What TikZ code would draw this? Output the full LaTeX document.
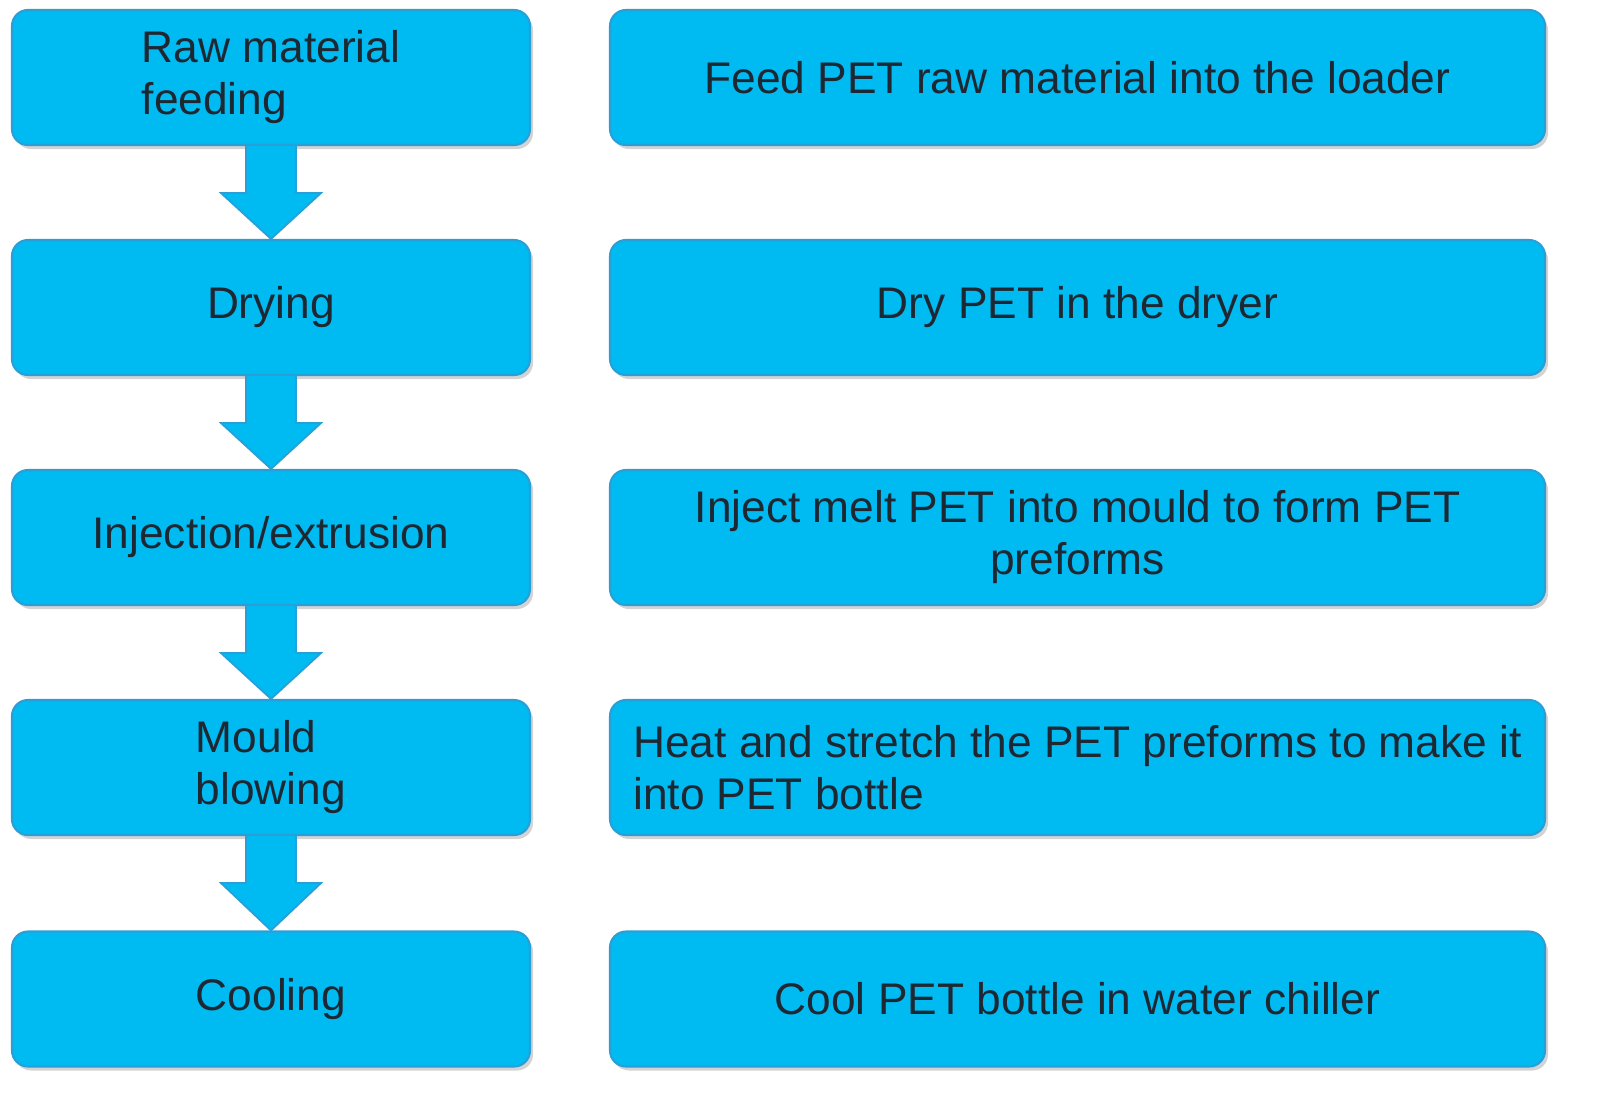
\documentclass[tikz,border=0pt]{standalone}
\usepackage{fontspec}
\setmainfont{Liberation Sans}
\usetikzlibrary{calc}
\usetikzlibrary{shadows}
\definecolor{boxcyan}{RGB}{0,186,242}
\definecolor{boxedge}{RGB}{40,160,215}
\definecolor{txt}{RGB}{30,40,50}
\tikzset{
  stepbox/.style={draw=boxedge, line width=0.6pt, fill=boxcyan, rounded corners=0.16cm,
    minimum height=1.35cm, text=txt, font=\fontsize{12.6}{14.8}\selectfont,
    drop shadow={shadow xshift=0.03cm, shadow yshift=-0.04cm, opacity=0.35}},
  leftbox/.style={stepbox, minimum width=5.18cm},
  rightbox/.style={stepbox, minimum width=9.35cm},
  blockarrow/.style={fill=boxcyan, draw=boxedge, line width=0.5pt}
}
\begin{document}
\begin{tikzpicture}
                \useasboundingbox (0,0) rectangle (16,-11.08);
                \node[leftbox, align=left] (raw) at (2.71,-0.775) {Raw material\\feeding};
                \node[leftbox] (dry) at (2.71,-3.075) {Drying};
                \node[leftbox] (inj) at (2.71,-5.375) {Injection/extrusion};
                \node[leftbox, align=left] (blow) at (2.71,-7.675) {Mould\\blowing};
                \node[leftbox] (cool) at (2.71,-9.99) {Cooling};

                \node[rightbox] (feedtxt) at (10.775,-0.775) {Feed PET raw material into the loader};
                \node[rightbox] (drytxt) at (10.775,-3.075) {Dry PET in the dryer};
                \node[rightbox, align=center] (injtxt) at (10.775,-5.375) {Inject melt PET into mould to form PET\\preforms};
                \node[rightbox, align=left] (blowtxt) at (10.775,-7.675) {Heat and stretch the PET preforms to make it\\into PET bottle};
                \node[rightbox] (cooltxt) at (10.775,-9.99) {Cool PET bottle in water chiller};

                \foreach \a/\b in {raw/dry, dry/inj, inj/blow, blow/cool}
                  \draw[blockarrow] ($(\a.south)+(-0.25,0)$) -- ($(\a.south)+(-0.25,-0.47)$)
                    -- ($(\a.south)+(-0.5,-0.47)$) -- (\b.north) -- ($(\a.south)+(0.5,-0.47)$)
                    -- ($(\a.south)+(0.25,-0.47)$) -- ($(\a.south)+(0.25,0)$);
            \end{tikzpicture}
\end{document}
